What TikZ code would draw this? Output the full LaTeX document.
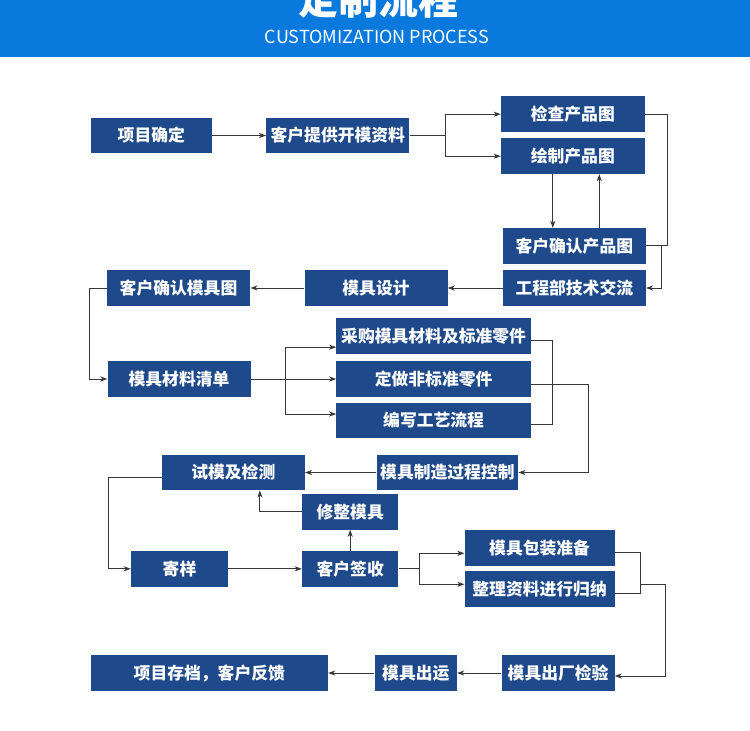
\documentclass[tikz,border=0pt]{standalone}
\usepackage{fontspec}
\usepackage{tikz}
\usepackage{xcolor}
\usetikzlibrary{arrows.meta}
\setmainfont{Noto Sans CJK SC}
\definecolor{bandblue}{RGB}{10,121,221}
\definecolor{boxblue}{RGB}{30,73,138}
\definecolor{linegray}{RGB}{55,55,55}

\begin{document}
\begin{tikzpicture}[
  x=1pt, y=-1pt,
  proc/.style={rectangle, fill=boxblue, text=white, inner sep=0pt,
               minimum height=35.5pt, minimum width=#1,
               font=\bfseries\fontsize{16.8}{18}\selectfont},
  proc/.default=143pt,
  link/.style={draw=linegray, line width=1pt},
  edge/.style={link, -{Stealth[length=7pt, width=5pt, inset=2pt]}}
]
  \clip (0,0) rectangle (750,731);
  \fill[white] (0,0) rectangle (750,731);
  \fill[bandblue] (0,0) rectangle (750,57);
  \node[anchor=base, text=white, font=\bfseries\fontsize{40}{40}\selectfont] (title) at (378,14) {定制流程};
  \node[text=white, font=\fontsize{18}{18}\selectfont] (subtitle) at (377,37) {CUSTOMIZATION PROCESS};

  \node[proc=121pt]   (confirm) at (151.3,135.5) {项目确定};
  \node[proc]         (data) at (337.8,135.5) {客户提供开模资料};
  \node[proc=143.5pt] (check) at (572.8,114.2) {检查产品图};
  \node[proc=143.5pt] (drawing) at (572.8,156.2) {绘制产品图};
  \node[proc]         (pconfirm) at (574.3,245.8) {客户确认产品图};
  \node[proc]         (tech) at (574.3,288) {工程部技术交流};
  \node[proc]         (design) at (376,288) {模具设计};
  \node[proc=143.5pt] (mconfirm) at (178.5,288) {客户确认模具图};
  \node[proc]         (bom) at (179,379) {模具材料清单};
  \node[proc=194.4pt] (buy) at (433.6,336.2) {采购模具材料及标准零件};
  \node[proc=194.4pt] (custom) at (433.6,379) {定做非标准零件};
  \node[proc=194.4pt] (process) at (433.6,420.5) {编写工艺流程};
  \node[proc=141.6pt] (control) at (447.4,472.5) {模具制造过程控制};
  \node[proc]         (trial) at (233.3,472.5) {试模及检测};
  \node[proc=96.4pt]  (fix) at (350.2,511.8) {修整模具};
  \node[proc=97pt]    (sample) at (179.5,568.8) {寄样};
  \node[proc=96.4pt]  (sign) at (350.2,568.8) {客户签收};
  \node[proc=150pt]   (pack) at (539.6,548) {模具包装准备};
  \node[proc=150pt]   (docs) at (539.6,589.2) {整理资料进行归纳};
  \node[proc=237.3pt] (archive) at (209.3,673) {项目存档，客户反馈};
  \node[proc=82.3pt]  (ship) at (415.8,673) {模具出运};
  \node[proc=112.9pt] (inspect) at (558.1,673) {模具出厂检验};

  \coordinate (f1) at (445.5,135.5);
  \coordinate (f2) at (285.5,379);
  \coordinate (f3) at (419.5,568.8);
  \coordinate (f4) at (640.6,584.3);

  \draw[edge] (confirm) -- (data);
  \draw[link] (data) -- (f1);
  \draw[edge] (f1) |- (check);
  \draw[edge] (f1) |- (drawing);
  \draw[edge] ([xshift=-20pt]drawing.south) -- ([xshift=-20pt]drawing.south |- pconfirm.north);
  \draw[edge] ([xshift=26.5pt]drawing.south |- pconfirm.north) -- ([xshift=26.5pt]drawing.south);
  \draw[link] (check.east) -- ++(23,0) |- (pconfirm.east);
  \draw[edge] (pconfirm.east) ++(15,0) |- (tech.east);
  \draw[edge] (tech) -- (design);
  \draw[edge] (design) -- (mconfirm);
  \draw[edge] (mconfirm.west) -- ++(-17,0) |- (bom);

  \draw[edge] (bom) -- (custom);
  \draw[edge] (f2) |- ([yshift=-11pt]buy.west);
  \draw[edge] (f2) |- ([yshift=6.5pt]process.west);
  \draw[link] ([yshift=-4pt]buy.east) -- ++(21,0) |- ([yshift=-3.5pt]process.east);
  \draw[edge] ([yshift=-5pt]custom.east) -- ++(57.5,0) |- (control);
  \draw[edge] (control) -- (trial);
  \draw[edge] ([yshift=-4.5pt]trial.west) -- ++(-53,0) |- (sample);
  \draw[edge] (fix.west) -| ([xshift=26.6pt]trial.south);

  \draw[edge] (sample) -- (sign);
  \draw[edge] (sign) -- (fix);
  \draw[link] (sign) -- (f3);
  \draw[edge] (f3) |- ([yshift=-5.3pt]pack.west);
  \draw[edge] (f3) |- ([yshift=4.9pt]docs.west);
  \draw[link] ([yshift=-4.7pt]pack.east) -- ++(26,0) |- ([yshift=-4pt]docs.east);
  \draw[edge] (f4) -- ++(25,0) |- ([yshift=-3pt]inspect.east);
  \draw[edge] (inspect) -- (ship);
  \draw[edge] (ship) -- (archive);
\end{tikzpicture}
\end{document}
